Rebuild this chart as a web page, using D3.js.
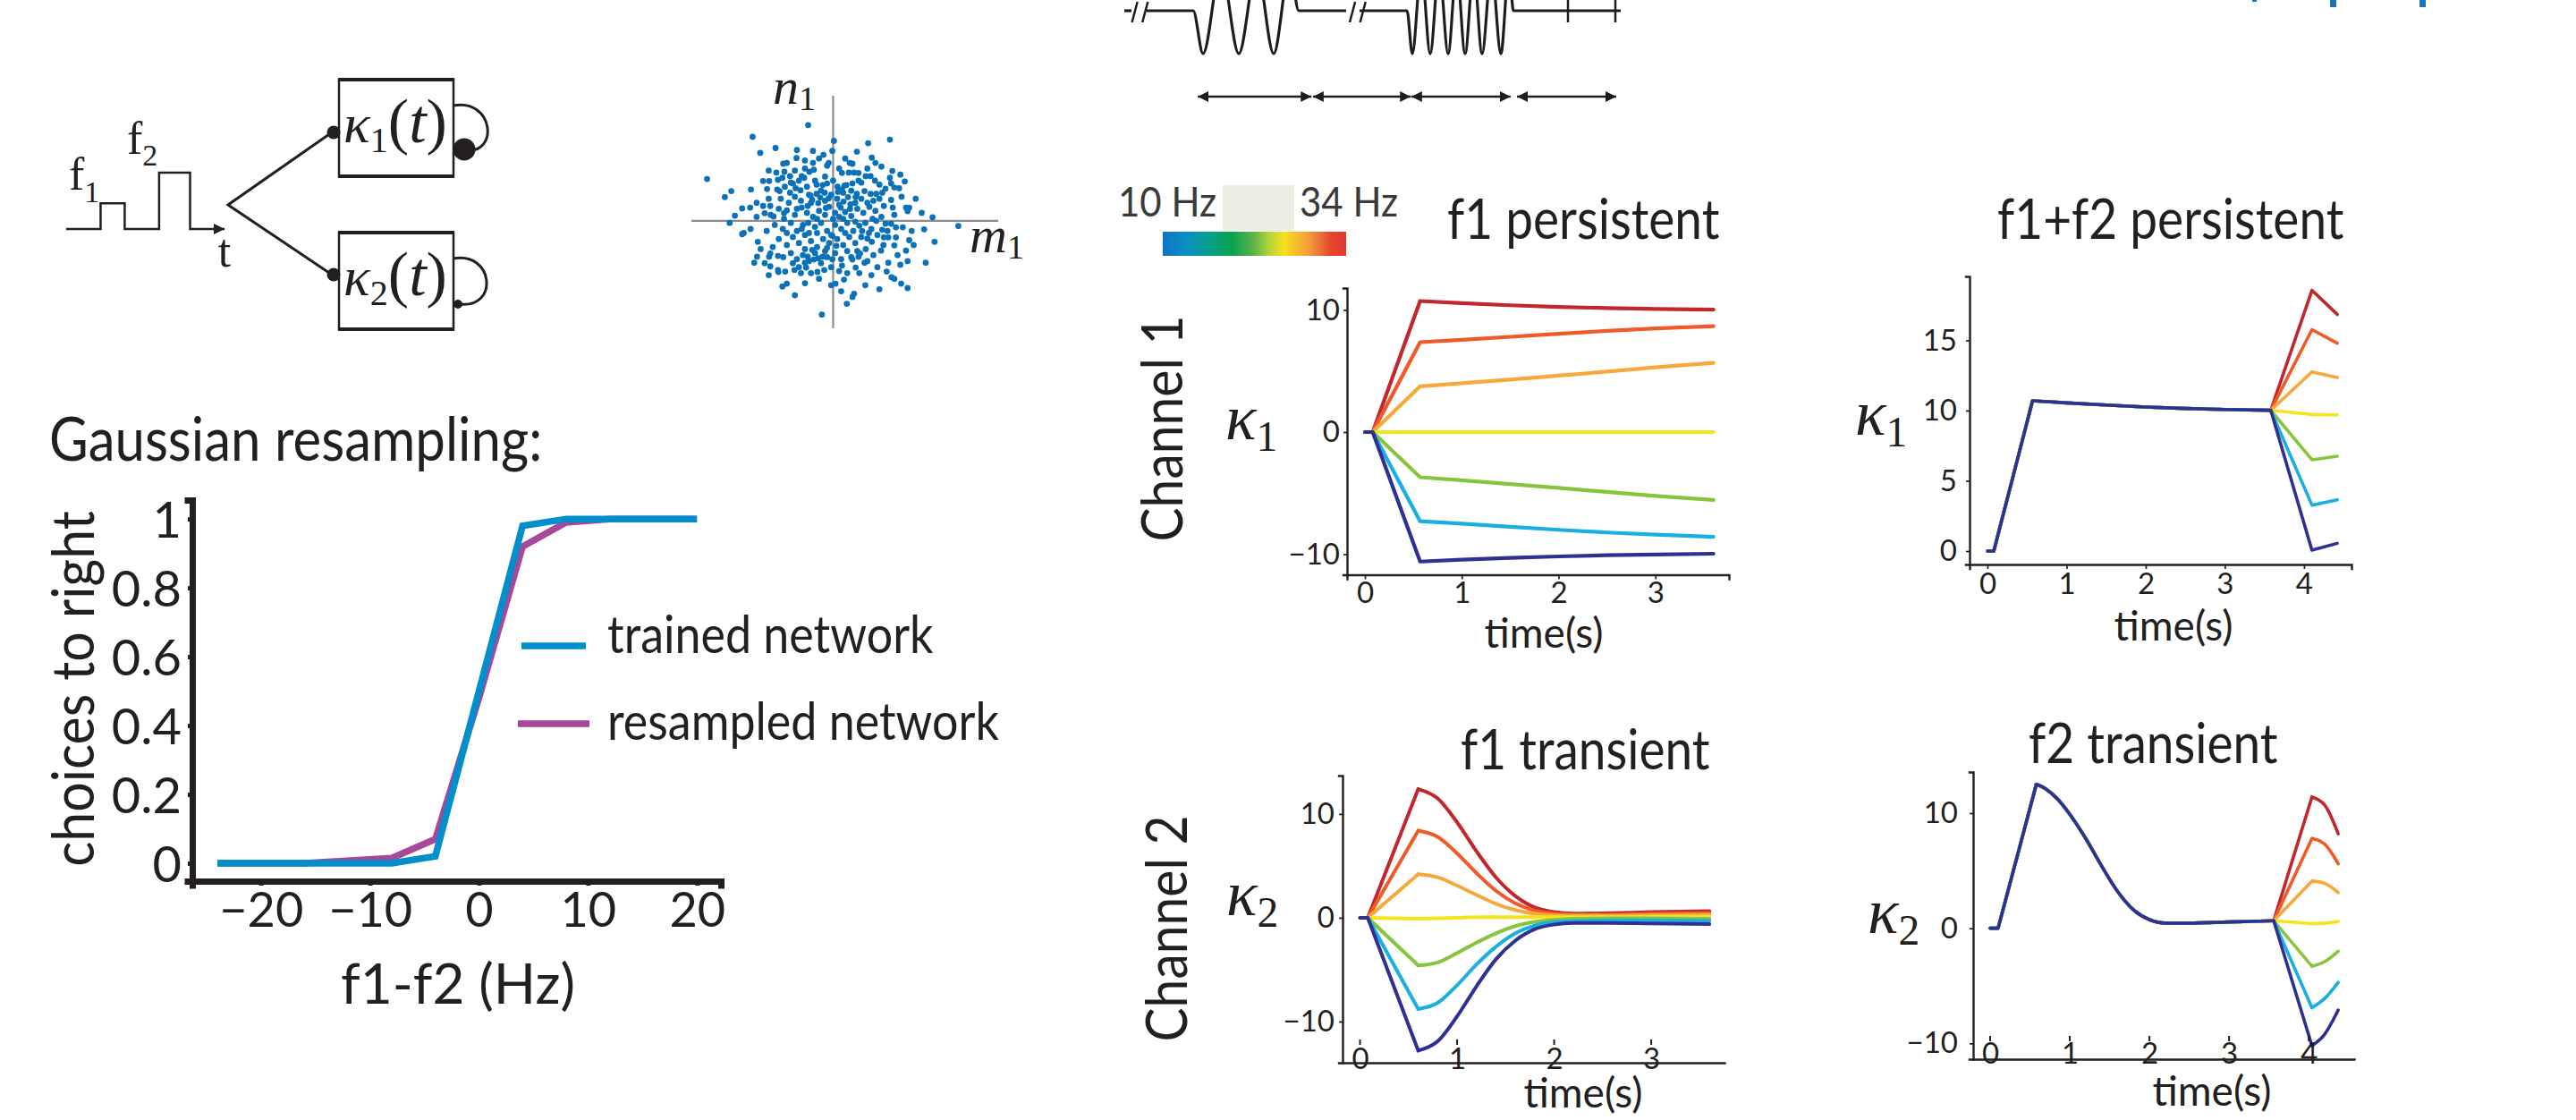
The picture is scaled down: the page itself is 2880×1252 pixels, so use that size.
<!DOCTYPE html>
<html>
<head>
<meta charset="utf-8">
<script src="https://cdn.jsdelivr.net/npm/d3@7"></script>
<style>
  html, body { margin: 0; padding: 0; background: #fff; }
  svg { display: block; }
  text { font-family: Lato, "Open Sans", sans-serif; fill: #231f20; }
  .math { font-family: "Liberation Serif", "DejaVu Serif", serif; font-style: italic; }
  .roman { font-family: "Liberation Serif", "DejaVu Serif", serif; }
</style>
</head>
<body>
<svg id="fig" width="2880" height="1252"></svg>
<script>
// ---------------- data ----------------

// psychometric curve
const diffHz = [-24, -16, -8, -4, 0, 4, 8, 12, 16, 20];
const trainedChoice = [0, 0, 0, 0.02, 0.5, 0.98, 1, 1, 1, 1];
const resampledChoice = [0, 0, 0.015, 0.07, 0.48, 0.92, 0.99, 1, 1, 1];
const choiceTicks = [0, 0.2, 0.4, 0.6, 0.8, 1];
const diffTicks = [-20, -10, 0, 10, 20];

// one colour per f1 value, 10 Hz ... 34 Hz (drawn red first, navy last)
const freqColors = ["#c1272d", "#ef5a28", "#f7a83c", "#f4e31d", "#87c540", "#19afe3", "#2e3192"];

// f1 persistent (channel 1)
const tPers = [0, 0.08, 0.57, 1.0, 1.5, 2.0, 2.5, 3.0, 3.6];
const k1Pers = [
  [0, 0, 10.73, 10.55, 10.38, 10.25, 10.15, 10.08, 10.03],
  [0, 0, 7.36, 7.55, 7.8, 8.05, 8.28, 8.48, 8.67],
  [0, 0, 3.75, 4.0, 4.3, 4.62, 4.95, 5.3, 5.66],
  [0, 0, 0, 0, 0, 0, 0, 0, 0],
  [0, 0, -3.7, -3.95, -4.25, -4.57, -4.9, -5.22, -5.56],
  [0, 0, -7.3, -7.5, -7.75, -8.0, -8.22, -8.4, -8.57],
  [0, 0, -10.6, -10.45, -10.3, -10.18, -10.08, -10.02, -9.96]
];

// f1+f2 persistent (channel 1): shared trace, then one branch per f2
const tShared1 = [0, 0.08, 0.57, 1.0, 1.5, 2.0, 2.5, 3.0, 3.58];
const k1Shared = [0, 0, 10.7, 10.55, 10.4, 10.25, 10.15, 10.08, 10.02];
const tBranch1 = [3.58, 4.1, 4.42];
const k1Branch = [
  [10.02, 18.56, 16.85],
  [10.02, 15.76, 14.8],
  [10.02, 12.75, 12.35],
  [10.02, 9.72, 9.7],
  [10.02, 6.5, 6.75],
  [10.02, 3.27, 3.65],
  [10.02, 0.07, 0.55]
];

// f1 transient (channel 2)
const tTrans = [0, 0.08, 0.6, 0.8, 1.0, 1.2, 1.4, 1.6, 1.8, 2.0, 2.2, 2.6, 3.0, 3.6];
const k2Trans = [
  [0, 0, 12.4, 11.5, 9.2, 6.4, 3.9, 2.1, 1.0, 0.55, 0.4, 0.45, 0.55, 0.65],
  [0, 0, 8.4, 7.8, 6.2, 4.3, 2.6, 1.4, 0.7, 0.4, 0.3, 0.3, 0.4, 0.45],
  [0, 0, 4.2, 3.9, 3.1, 2.2, 1.35, 0.75, 0.4, 0.25, 0.2, 0.2, 0.25, 0.3],
  [0, 0, -0.1, -0.05, 0, 0.05, 0.05, 0.05, 0.05, 0.05, 0.05, 0.05, 0.1, 0.1],
  [0, 0, -4.6, -4.3, -3.4, -2.4, -1.5, -0.8, -0.4, -0.2, -0.1, -0.05, -0.05, -0.1],
  [0, 0, -8.8, -8.2, -6.5, -4.5, -2.8, -1.5, -0.75, -0.4, -0.3, -0.25, -0.25, -0.3],
  [0, 0, -12.8, -11.9, -9.5, -6.6, -4.0, -2.2, -1.1, -0.65, -0.5, -0.5, -0.55, -0.6]
];

// f2 transient (channel 2): shared trace, then one branch per f2
const tShared2 = [0, 0.1, 0.58, 0.7, 0.85, 1.0, 1.2, 1.4, 1.6, 1.8, 2.0, 2.2, 2.5, 3.0, 3.56];
const k2Shared = [0, 0, 12.5, 12.1, 11.2, 9.9, 7.8, 5.4, 3.2, 1.6, 0.75, 0.45, 0.45, 0.55, 0.65];
const tBranch2 = [3.56, 4.04, 4.2, 4.37];
const k2Branch = [
  [0.65, 11.4, 10.7, 8.2],
  [0.65, 7.8, 7.3, 5.6],
  [0.65, 4.1, 3.9, 3.1],
  [0.65, 0.4, 0.45, 0.6],
  [0.65, -3.3, -2.9, -2.0],
  [0.65, -6.9, -6.1, -4.7],
  [0.65, -10.2, -9.2, -7.1]
];

// connectivity cloud (m1, n1)
const cloudPts = [
  [-2.0,2.09],[-3.13,1.04],[-2.69,0.59],[-2.53,0.74],[-1.81,1.69],[-1.43,1.81],[-0.9,1.76],[-0.5,1.74],
  [-0.24,1.64],[-0.02,1.74],[0.02,1.99],[0.87,1.93],[1.41,2.02],[0.59,1.72],[0.96,1.57],[1.05,1.44],
  [0.41,1.44],[0.48,1.42],[0.22,1.19],[0.39,1.2],[0.52,1.2],[0.63,1.19],[0.85,1.3],[0.81,1.11],
  [0.93,1.11],[1.04,1.0],[1.47,1.24],[1.67,1.15],[1.41,1.07],[1.78,0.98],[1.44,0.93],[1.52,0.83],
  [1.64,0.81],[-1.24,1.42],[-1.15,1.44],[-1.41,1.2],[-1.21,1.22],[-1.07,1.11],[-1.26,1.07],[-1.37,1.02],
  [-0.62,2.38],[-0.91,1.56],[-0.7,1.5],[-0.5,1.44],[-0.48,1.27],[-0.59,1.22],[-0.78,1.11],[-0.85,1.0],
  [-0.72,1.07],[-1.0,0.93],[-0.93,0.81],[-0.81,0.76],[-1.07,0.7],[-1.74,0.99],[-1.59,0.99],[-2.04,0.78],
  [-1.64,0.79],[-1.39,0.78],[-1.33,0.74],[-0.15,1.37],[-0.11,1.44],[0,1.0],[-0.15,0.93],[-0.41,0.9],
  [-0.26,0.89],[-0.21,0.7],[-0.11,0.56],[-0.41,0.67],[-0.56,0.63],[-0.52,0.52],[-0.37,0.44],[-0.63,0.37],
  [-0.78,0.33],[0.11,0.85],[0.22,0.78],[0.33,0.89],[0.48,0.93],[0.63,1.0],[0.59,0.67],[0.56,0.59],
  [0.37,0.59],[0.26,0.48],[0.43,0.41],[0.19,0.33],[0.78,0.74],[0.93,0.67],[1.07,0.67],[1.22,0.7],
  [1.26,0.37],[1.44,0.52],[1.48,0.33],[1.52,0.15],[1.81,0.33],[1.89,0.33],[1.85,0.24],[-2.44,0.13],
  [-2.26,0.31],[-2.06,0.33],[-2.57,-0.05],[-1.74,0.37],[-1.56,0.37],[-1.7,0.19],[-1.48,0.11],[-1.22,0.19],
  [-1.15,0.26],[2.47,0.09],[3.11,-0.13],[2.26,-0.21],[2.52,-0.52],[2.3,-1.04],[1.89,-0.48],[1.85,-1.0],
  [1.81,-0.74],[1.67,-1.09],[1.85,-1.67],[1.69,-1.56],[1.52,-1.44],[1.33,-1.26],[1.37,-1.04],[1.19,-0.74],
  [0.96,-0.52],[0.85,-0.44],[0.89,-0.3],[1.22,-0.22],[1.26,-0.41],[1.37,-0.41],[1.56,-0.41],[1.52,-0.61],
  [1.56,-0.16],[1.73,-0.16],[1.44,-0.07],[1.3,-0.07],[1.07,0],[-0.28,-2.33],[0.34,-2.06],[0.48,-1.89],
  [0.52,-1.81],[0.06,-1.56],[0.27,-1.46],[-0.35,-1.44],[-0.39,-1.27],[-0.22,-1.22],[-0.15,-0.67],[-0.02,-0.37],
  [0.22,-1.11],[0.56,-1.16],[0.48,-0.96],[0.63,-0.89],[0.81,-0.7],[0.85,-1.0],[0.78,-1.04],[0.67,-0.81],
  [-2.26,-0.33],[-2.22,-0.3],[-1.87,-0.52],[-1.89,-0.89],[-1.96,-1.04],[-1.7,-1.05],[-1.56,-1.13],[-1.59,-0.89],
  [-1.56,-0.81],[-1.37,-0.87],[-1.24,-0.9],[-1.37,-1.22],[-1.36,-1.27],[-1.19,-1.26],[-1.26,-1.63],[-1.15,-1.56],
  [-0.96,-1.22],[-0.85,-1.15],[-0.67,-1.16],[-0.7,-1.04],[-0.63,-0.89],[-0.48,-0.96],[-0.37,-0.93],[-0.26,-0.89],
  [-1.3,0.55],[-1.1,0.45],[-0.95,0.6],[-0.8,0.5],[-0.65,0.2],[-0.5,0.1],[-0.35,0.25],[-0.2,0.15],
  [-0.1,0.35],[0.05,0.2],[0.15,0.1],[0.3,0.22],[0.45,0.12],[0.6,0.3],[0.75,0.2],[0.9,0.35],
  [1.05,0.25],[1.2,0.1],[-1.45,-0.1],[-1.25,-0.2],[-1.05,-0.05],[-0.9,-0.25],[-0.75,-0.1],[-0.6,-0.3],
  [-0.45,-0.15],[-0.3,-0.05],[-0.15,-0.25],[0.05,-0.1],[0.2,-0.2],[0.35,-0.05],[0.5,-0.25],[0.65,-0.12],
  [0.8,-0.05],[0.95,-0.2],[1.1,-0.35],[-1.35,-0.45],[-1.15,-0.6],[-1.0,-0.4],[-0.85,-0.55],[-0.7,-0.7],
  [-0.55,-0.5],[-0.4,-0.65],[-0.25,-0.45],[-0.1,-0.55],[0.1,-0.45],[0.25,-0.6],[0.4,-0.4],[0.55,-0.55],
  [0.7,-0.4],[-1.05,-0.8],[-0.9,-0.95],[-0.75,-0.85],[-0.6,-1.0],[-0.45,-0.8],[-0.3,-1.05],[-0.15,-0.9],
  [0.05,-0.8],[0.2,-0.95],[0.35,-0.75],[0.35,-1.3],[0.15,-1.25],[-0.05,-1.15],[-0.55,-1.3],[-0.8,-1.3],
  [-1.0,-1.05],[1.0,-0.85],[1.1,-1.15],[0.95,-1.35],[0.65,-1.3],[-1.2,0.85],[-1.05,0.95],[-0.65,0.85],
  [-0.3,0.75],[-0.05,0.65],[0.1,0.55],[0.25,0.7],[0.45,0.75],[0.7,0.55],[0.85,0.45],[1.0,0.5],
  [1.15,0.55],[1.3,0.8],[1.15,0.9],[-1.6,0.55],[-1.9,0.1],[-1.65,-0.25],[-1.8,-0.7],[-2.05,-0.2],
  [-1.5,-0.65],[-1.35,0.3],[-1.55,0.15],[1.35,-0.25],[1.6,-0.85],[1.95,-0.25],[2.05,0.55],[2.2,0.2],
  [1.7,0.6],[1.25,-0.6],[-0.45,1.0],[-0.2,1.1],[0.15,1.3],[0.3,1.55],[-0.35,1.55],[-0.7,1.3],
  [1.2,1.35],[-0.9,0.3],[-0.55,0.45],[-0.2,0.5],[0.15,0.4],[0.55,0.45],[-0.7,-0.35],[-0.2,-0.75],
  [0.3,-0.3],[0.6,-0.75],[-1.15,-0.3],[0.0,0.05],[-0.05,-0.35],[0.25,0.05],[-0.4,-0.3],[0.45,-0.9],
  [-0.6,0.65],[0.7,0.95],[-0.95,1.25],[-1.6,1.25],[-1.9,0.45],[2.0,-0.6],[1.45,-1.4],[-0.05,-1.6],
  [-0.7,-1.55],[-1.6,-1.35],[0.8,-1.6],[1.15,-1.7],[-0.95,-1.85],[0.2,-1.75],
  [-0.95,0.15],[-0.78,-0.2],[-0.32,0.58],[0.08,-0.62],[0.42,0.3],[0.72,-0.25],[-0.52,-0.72],[-0.18,0.32],
  [0.28,0.88],[-1.22,0.05],[0.98,0.05],[-0.62,-0.05],[0.12,0.72],[-0.4,0.05],[0.55,-0.02],[-0.02,-0.95]
];

// stimulus sketch (arbitrary time units 0..100, level 0 = baseline, -1 = trough, +1 = crest)
const stimA = [[0, 0], [1.44, 0]];
const stimB = [[4.5, 0], [13.87, 0], [15.86, -1], [19.46, 1], [23.06, -1], [26.67, 1], [30.09, -1],
               [33.33, 1], [35.14, 0], [44.68, 0]];
const stimC = [[47.39, 0], [56.94, 0], [58.02, -1], [59.82, 1], [61.62, -1], [63.42, 1], [65.23, -1],
               [66.94, 1], [68.65, -1], [70.36, 1], [72.07, -1], [73.96, 1], [75.86, -1], [77.48, 1],
               [78.38, 0], [100, 0]];
const stimBreaks = [1.44, 45.3];
const stimTicks = [89.37, 98.92];
const epochs = [[14.8, 37.7], [38.0, 57.7], [57.8, 77.8], [79.1, 99.1]];

// input pulses of the network sketch (time, amplitude)
const pulseT = [0, 1, 1, 1.7, 1.7, 2.7, 2.7, 3.6, 3.6, 4.6];
const pulseA = [0, 0, 1, 1, 0, 0, 2.2, 2.2, 0, 0];

// colour bar stops
const barStops = [
  [0, "#1273c5"], [0.12, "#0b8dc8"], [0.25, "#069e8c"], [0.38, "#0ba24e"], [0.5, "#5fb548"],
  [0.58, "#b5d33a"], [0.66, "#f5e11b"], [0.8, "#f39a3a"], [0.92, "#e5432e"], [1, "#e03a33"]
];

// ---------------- drawing ----------------
const svg = d3.select("#fig");
svg.append("rect").attr("width", 2880).attr("height", 1252).attr("fill", "#fff");
const defs = svg.append("defs");

const ink = "#231f20";

function styleAxis(g, w, size) {
  g.attr("font-family", "Lato, 'Open Sans', sans-serif").attr("font-size", size);
  g.select(".domain").attr("stroke", ink).attr("stroke-width", w).attr("stroke-linecap", "square");
  g.selectAll(".tick line").attr("stroke", ink).attr("stroke-width", Math.max(1.5, w * 0.7));
  g.selectAll(".tick text").attr("fill", ink);
}

function kappa(x, y, sub, size, subShift) {
  const t = svg.append("text").attr("class", "math").attr("x", x).attr("y", y).attr("font-size", size);
  t.append("tspan").text("κ");
  t.append("tspan").attr("font-style", "normal").attr("font-size", size * 0.66)
    .attr("dy", subShift).text(sub);
}

// ---------- stimulus sketch at the very top ----------
{
  const sx = d3.scaleLinear().domain([0, 100]).range([1257, 1812]);
  const sy = d3.scaleLinear().domain([-1, 0]).range([60, 12]);
  const wave = d3.line().x(d => sx(d[0])).y(d => sy(d[1])).curve(d3.curveMonotoneX);
  [stimA, stimB, stimC].forEach(seg => {
    svg.append("path").datum(seg).attr("d", wave).attr("fill", "none")
      .attr("stroke", "#1d1d1b").attr("stroke-width", 3.2);
  });
  stimBreaks.forEach(b => {
    [0, 2.1].forEach(o => {
      svg.append("line")
        .attr("x1", sx(b + o + 0.1)).attr("y1", 25)
        .attr("x2", sx(b + o + 1.2)).attr("y2", 2)
        .attr("stroke", "#1d1d1b").attr("stroke-width", 2.5);
    });
  });
  stimTicks.forEach(t => {
    svg.append("line").attr("x1", sx(t)).attr("x2", sx(t)).attr("y1", 0).attr("y2", 25)
      .attr("stroke", "#1d1d1b").attr("stroke-width", 2.5);
  });

  defs.append("marker").attr("id", "ah").attr("viewBox", "0 0 10 10")
    .attr("refX", 10).attr("refY", 5).attr("markerWidth", 12).attr("markerHeight", 12)
    .attr("markerUnits", "userSpaceOnUse").attr("orient", "auto-start-reverse")
    .append("path").attr("d", "M0,0 L10,5 L0,10 Z").attr("fill", "#1d1d1b");
  epochs.forEach(e => {
    svg.append("line").attr("x1", sx(e[0])).attr("x2", sx(e[1])).attr("y1", 108).attr("y2", 108)
      .attr("stroke", "#1d1d1b").attr("stroke-width", 2.5)
      .attr("marker-start", "url(#ah)").attr("marker-end", "url(#ah)");
  });

  // cropped blue marks at the top right
  [[2518, 5, 2], [2605, 7, 8], [2705, 7, 8]].forEach(r => {
    svg.append("rect").attr("x", r[0]).attr("y", 0).attr("width", r[1]).attr("height", r[2]).attr("fill", "#1a75bb");
  });
}

// ---------- network sketch ----------
{
  const px = d3.scaleLinear().domain([0, 4.6]).range([74, 251]);
  const py = d3.scaleLinear().domain([0, 2.2]).range([256, 193]);
  const pts = pulseT.map((t, i) => [px(t), py(pulseA[i])]);
  defs.append("marker").attr("id", "ah2").attr("viewBox", "0 0 10 10")
    .attr("refX", 10).attr("refY", 5).attr("markerWidth", 12).attr("markerHeight", 12)
    .attr("markerUnits", "userSpaceOnUse").attr("orient", "auto")
    .append("path").attr("d", "M0,0 L10,5 L0,10 Z").attr("fill", ink);
  svg.append("path").attr("d", d3.line()(pts)).attr("fill", "none").attr("stroke", ink)
    .attr("stroke-width", 2.5).attr("marker-end", "url(#ah2)");

  const f1 = svg.append("text").attr("class", "roman").attr("x", 77).attr("y", 212).attr("font-size", 52);
  f1.append("tspan").text("f");
  f1.append("tspan").attr("font-size", 34).attr("dy", 14).text("1");
  const f2 = svg.append("text").attr("class", "roman").attr("x", 142).attr("y", 172).attr("font-size", 52);
  f2.append("tspan").text("f");
  f2.append("tspan").attr("font-size", 34).attr("dy", 13).text("2");
  svg.append("text").attr("class", "roman").attr("x", 251).attr("y", 298).attr("font-size", 52)
    .attr("text-anchor", "middle").text("t");

  // fork to the two channels
  svg.append("path").attr("d", "M371,148 L255,229 L371,307").attr("fill", "none")
    .attr("stroke", ink).attr("stroke-width", 3);
  svg.append("circle").attr("cx", 373).attr("cy", 148).attr("r", 7.5).attr("fill", ink);
  svg.append("circle").attr("cx", 373).attr("cy", 307).attr("r", 7.5).attr("fill", ink);

  [[89, "1", "M507,118 C552,110 558,172 521,168", 12.5, 519, 167],
   [260, "2", "M507,289 C552,281 558,345 514,340", 5, 512, 340]].forEach(b => {
    const top = b[0];
    svg.append("rect").attr("x", 379).attr("y", top).attr("width", 128).attr("height", 108)
      .attr("fill", "none").attr("stroke", ink).attr("stroke-width", 2.5);
    svg.append("line").attr("x1", 378).attr("x2", 508).attr("y1", top).attr("y2", top)
      .attr("stroke", ink).attr("stroke-width", 4);
    svg.append("line").attr("x1", 378).attr("x2", 508).attr("y1", top + 108).attr("y2", top + 108)
      .attr("stroke", ink).attr("stroke-width", 4);
    svg.append("path").attr("d", b[2]).attr("fill", "none").attr("stroke", ink).attr("stroke-width", 3);
    svg.append("circle").attr("cx", b[4]).attr("cy", b[5]).attr("r", b[3]).attr("fill", ink);
    const t = svg.append("text").attr("class", "math").attr("x", 442).attr("y", top + 70)
      .attr("text-anchor", "middle").attr("font-size", 62);
    t.append("tspan").text("κ");
    t.append("tspan").attr("font-style", "normal").attr("font-size", 40).attr("dy", 11).text(b[1]);
    t.append("tspan").attr("font-style", "normal").attr("font-size", 70).attr("dy", -11).text("(");
    t.append("tspan").attr("font-size", 70).text("t");
    t.append("tspan").attr("font-style", "normal").attr("font-size", 70).text(")");
  });
}

// ---------- connectivity cloud ----------
{
  const mx = d3.scaleLinear().domain([-3.52, 4.1]).range([773, 1116]);
  const ny = d3.scaleLinear().domain([-2.67, 3.11]).range([367, 107]);
  svg.append("line").attr("x1", mx(-3.52)).attr("x2", mx(4.1)).attr("y1", ny(0)).attr("y2", ny(0))
    .attr("stroke", "#8c8c8c").attr("stroke-width", 2.2);
  svg.append("line").attr("x1", mx(0)).attr("x2", mx(0)).attr("y1", ny(3.11)).attr("y2", ny(-2.67))
    .attr("stroke", "#8c8c8c").attr("stroke-width", 2.2);
  svg.append("g").selectAll("circle").data(cloudPts).join("circle")
    .attr("cx", d => mx(d[0])).attr("cy", d => ny(d[1])).attr("r", 3.4).attr("fill", "#0b72b9");
  const n1 = svg.append("text").attr("class", "math").attr("x", 864).attr("y", 116).attr("font-size", 58);
  n1.append("tspan").text("n");
  n1.append("tspan").attr("font-style", "normal").attr("font-size", 38).attr("dy", 7).text("1");
  const m1 = svg.append("text").attr("class", "math").attr("x", 1084).attr("y", 282).attr("font-size", 58);
  m1.append("tspan").text("m");
  m1.append("tspan").attr("font-style", "normal").attr("font-size", 38).attr("dy", 7).text("1");
}

// ---------- psychometric curves ----------
{
  const x = d3.scaleLinear().domain([-26.3, 22.2]).range([215, 806]);
  const y = d3.scaleLinear().domain([-0.052, 1.055]).range([985, 559]);

  svg.append("text").attr("class", "tall").attr("x", 55).attr("y", 515).attr("font-size", 60)
    .text("Gaussian resampling:");

  const line = d3.line().x(d => x(d[0])).y(d => y(d[1]));
  svg.append("path").datum(diffHz.map((d, i) => [d, resampledChoice[i]])).attr("d", line)
    .attr("fill", "none").attr("stroke", "#a8489a").attr("stroke-width", 7.5);
  svg.append("path").datum(diffHz.map((d, i) => [d, trainedChoice[i]])).attr("d", line)
    .attr("fill", "none").attr("stroke", "#008fcc").attr("stroke-width", 7.5);

  const gx = svg.append("g").attr("transform", "translate(0,985)")
    .call(d3.axisBottom(x).tickValues(diffTicks).tickSizeOuter(0).tickSize(5).tickPadding(8));
  styleAxis(gx, 7, 54);
  const gy = svg.append("g").attr("transform", "translate(215,0)")
    .call(d3.axisLeft(y).tickValues(choiceTicks).tickFormat(d3.format("~g")).tickSizeOuter(0).tickSize(5).tickPadding(7));
  styleAxis(gy, 7, 56);
  gy.selectAll(".tick text").attr("dy", "0.36em");

  svg.append("text").attr("x", 512).attr("y", 1122).attr("text-anchor", "middle")
    .attr("font-size", 62).text("f1-f2 (Hz)");
  svg.append("text").attr("class", "tall").attr("transform", "translate(105,770) rotate(-90)")
    .attr("text-anchor", "middle").attr("font-size", 59).text("choices to right");

  // legend
  [["trained network", "#008fcc", 583, 655, 722, 730], ["resampled network", "#a8489a", 579, 659, 809, 827]]
    .forEach(l => {
      svg.append("line").attr("x1", l[2]).attr("x2", l[3]).attr("y1", l[4]).attr("y2", l[4])
        .attr("stroke", l[1]).attr("stroke-width", 7.5);
      svg.append("text").attr("class", "tall").attr("x", 679).attr("y", l[5]).attr("font-size", 52).text(l[0]);
    });
}

// ---------- colour bar ----------
{
  const grad = defs.append("linearGradient").attr("id", "freqbar");
  barStops.forEach(s => grad.append("stop").attr("offset", s[0]).attr("stop-color", s[1]));
  svg.append("rect").attr("x", 1367).attr("y", 207).attr("width", 80).attr("height", 51).attr("fill", "#eceee4");
  svg.append("rect").attr("x", 1300).attr("y", 259).attr("width", 205).attr("height", 27).attr("fill", "url(#freqbar)");
  svg.append("text").attr("class", "tall").attr("x", 1250).attr("y", 242).attr("font-size", 42)
    .style("fill", "#3a3a3a").text("10 Hz");
  svg.append("text").attr("class", "tall").attr("x", 1453).attr("y", 242).attr("font-size", 42)
    .style("fill", "#3a3a3a").text("34 Hz");
}

// ---------- kappa panels ----------
const linear = d3.curveLinear, smooth = d3.curveMonotoneX;

function panel(p) {
  const x = d3.scaleLinear().domain(p.xDomain).range(p.xRange);
  const y = d3.scaleLinear().domain(p.yDomain).range(p.yRange);
  const g = svg.append("g");

  p.series.forEach((segs, i) => {
    segs.forEach(seg => {
      const ln = d3.line().x(d => x(d[0])).y(d => y(d[1])).curve(seg.curve);
      g.append("path").datum(seg.pts).attr("d", ln).attr("fill", "none")
        .attr("stroke", freqColors[i]).attr("stroke-width", p.lw)
        .attr("stroke-linejoin", "round").attr("stroke-linecap", "round");
    });
  });

  const gx = g.append("g").attr("transform", `translate(0,${p.yRange[0]})`)
    .call(d3.axisBottom(x).tickValues(p.xTicks).tickFormat(d3.format("d"))
      .tickSizeOuter(0).tickSize(p.xTickSize).tickPadding(p.xPad));
  styleAxis(gx, 2.4, 33);
  const gy = g.append("g").attr("transform", `translate(${p.xRange[0]},0)`)
    .call(d3.axisLeft(y).tickValues(p.yTicks).tickFormat(d3.format("d"))
      .tickSizeOuter(0).tickSize(4).tickPadding(p.yPad));
  styleAxis(gy, 2.4, 33);

  if (p.floatTicks) {
    // short tick marks floating above the time axis
    g.append("g").selectAll("line").data(p.xTicks).join("line")
      .attr("x1", d => x(d)).attr("x2", d => x(d))
      .attr("y1", p.yRange[0] - 26).attr("y2", p.yRange[0] - 20)
      .attr("stroke", ink).attr("stroke-width", 2);
  }

  g.append("text").attr("class", "tall").attr("x", p.title[1]).attr("y", p.title[2])
    .attr("font-size", 55).text(p.title[0]);
  g.append("text").attr("x", p.timeLabel[0]).attr("y", p.timeLabel[1]).attr("text-anchor", "middle")
    .attr("font-size", 46).text("time(s)");
  kappa(p.kappa[0], p.kappa[1], p.kappa[2], 72, 13);
}

const zip = (ts, ks) => ts.map((t, i) => [t, ks[i]]);

panel({
  xDomain: [-0.185, 3.76], xRange: [1506, 1933],
  yDomain: [-11.68, 11.79], yRange: [642.5, 322],
  xTicks: [0, 1, 2, 3], yTicks: [-10, 0, 10], xTickSize: 5, xPad: 3, yPad: 4, lw: 4.2,
  series: k1Pers.map(k => [{ pts: zip(tPers, k), curve: linear }]),
  title: ["f1 persistent", 1618, 267], timeLabel: [1726, 724], kappa: [1370, 491, "1"]
});

panel({
  xDomain: [-0.226, 4.6], xRange: [2202, 2629],
  yDomain: [-0.955, 19.55], yRange: [631, 309],
  xTicks: [0, 1, 2, 3, 4], yTicks: [0, 5, 10, 15], xTickSize: 5, xPad: 5, yPad: 10, lw: 3.6,
  series: k1Branch.map(b => [{ pts: zip(tShared1, k1Shared), curve: linear }, { pts: zip(tBranch1, b), curve: linear }]),
  title: ["f1+f2 persistent", 2233, 267], timeLabel: [2430, 716], kappa: [2074, 486, "1"]
});

panel({
  xDomain: [-0.18, 3.755], xRange: [1501, 1928],
  yDomain: [-13.97, 13.7], yRange: [1188, 867],
  xTicks: [0, 1, 2, 3], yTicks: [-10, 0, 10], xTickSize: 0, xPad: -16, yPad: 5, lw: 4.0, floatTicks: true,
  series: k2Trans.map(k => {
    const pts = zip(tTrans, k);
    return [{ pts: pts.slice(0, 3), curve: linear }, { pts: pts.slice(2), curve: smooth }];
  }),
  title: ["f1 transient", 1633, 860], timeLabel: [1770, 1238], kappa: [1371, 1023, "2"]
});

panel({
  xDomain: [-0.213, 4.57], xRange: [2206, 2632],
  yDomain: [-11.37, 13.57], yRange: [1184, 863],
  xTicks: [0, 1, 2, 3, 4], yTicks: [-10, 0, 10], xTickSize: 0, xPad: -18, yPad: 13, lw: 3.6, floatTicks: true,
  series: k2Branch.map(b => {
    const shared = zip(tShared2, k2Shared), br = zip(tBranch2, b);
    return [{ pts: shared.slice(0, 3), curve: linear }, { pts: shared.slice(2), curve: smooth },
            { pts: br.slice(0, 2), curve: linear }, { pts: br.slice(1), curve: smooth }];
  }),
  title: ["f2 transient", 2268, 853], timeLabel: [2473, 1236], kappa: [2088, 1043, "2"]
});

// channel labels
svg.append("text").attr("class", "tall").attr("transform", "translate(1322,479) rotate(-90)")
  .attr("text-anchor", "middle").attr("font-size", 57).text("Channel 1");
svg.append("text").attr("class", "tall").attr("transform", "translate(1327,1038) rotate(-90)")
  .attr("text-anchor", "middle").attr("font-size", 57).text("Channel 2");

// the big sans labels of the figure are tall and narrow: stretch them vertically a little
const tall = 1.12;
svg.selectAll("text.tall").each(function () {
  const el = d3.select(this);
  const tr = el.attr("transform");
  if (tr) {
    el.attr("transform", `${tr} scale(1,${tall})`);
  } else {
    const y0 = +el.attr("y") || 0;
    el.attr("transform", `translate(0,${y0}) scale(1,${tall}) translate(0,${-y0})`);
  }
});
</script>
</body>
</html>
